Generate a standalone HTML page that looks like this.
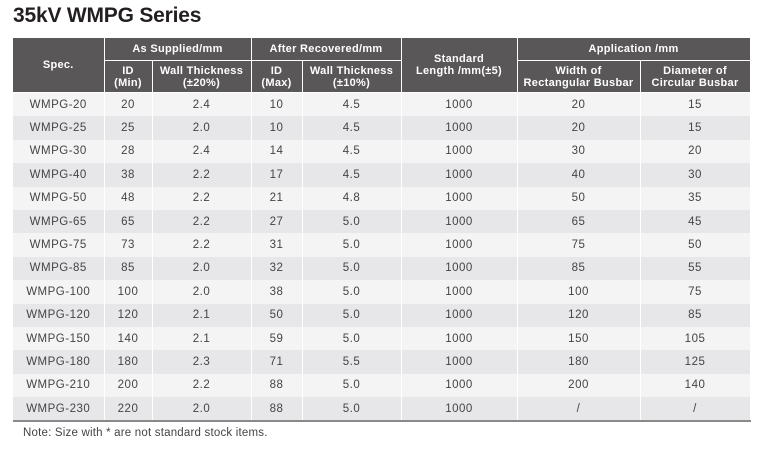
<!DOCTYPE html><html><head><style>
body{margin:0;width:766px;height:459px;background:#fff;font-family:"Liberation Sans",sans-serif;overflow:hidden}
h1{position:absolute;left:13px;top:4px;margin:0;font-size:21px;font-weight:bold;color:#231f20;letter-spacing:-0.2px}
table{position:absolute;left:13px;top:37px;border-collapse:collapse;table-layout:fixed;width:737px}
th{background:#595757;color:#fff;font-size:11px;font-weight:bold;border:1px solid #fff;padding:0;line-height:12px;letter-spacing:0.3px}
td{font-size:11.5px;color:#444;text-align:center;border-left:1px solid #fff;border-right:1px solid #fff;height:23.4px;padding:0;letter-spacing:0.5px}
tr.o td{background:#f4f4f4}tr.e td{background:#e7e7e9}
tr.last td{border-bottom:2px solid #8a8a8a}
th:first-child,td:first-child{border-left:none}
.note{position:absolute;left:23px;top:427px;font-size:11.5px;color:#444;letter-spacing:0.2px}
</style></head><body>
<h1>35kV WMPG Series</h1>
<table>
<colgroup><col style="width:91px"><col style="width:48px"><col style="width:99px"><col style="width:51px"><col style="width:99px"><col style="width:116px"><col style="width:123px"><col style="width:110px"></colgroup>
<tr style="height:23px"><th rowspan="2">Spec.</th><th colspan="2">As Supplied/mm</th><th colspan="2">After Recovered/mm</th><th rowspan="2">Standard<br>Length /mm(±5)</th><th colspan="2">Application /mm</th></tr>
<tr style="height:32px"><th>ID<br>(Min)</th><th>Wall Thickness<br>(±20%)</th><th>ID<br>(Max)</th><th>Wall Thickness<br>(±10%)</th><th>Width of<br>Rectangular Busbar</th><th>Diameter of<br>Circular Busbar</th></tr>
<tr class="o"><td>WMPG-20</td><td>20</td><td>2.4</td><td>10</td><td>4.5</td><td>1000</td><td>20</td><td>15</td></tr>
<tr class="e"><td>WMPG-25</td><td>25</td><td>2.0</td><td>10</td><td>4.5</td><td>1000</td><td>20</td><td>15</td></tr>
<tr class="o"><td>WMPG-30</td><td>28</td><td>2.4</td><td>14</td><td>4.5</td><td>1000</td><td>30</td><td>20</td></tr>
<tr class="e"><td>WMPG-40</td><td>38</td><td>2.2</td><td>17</td><td>4.5</td><td>1000</td><td>40</td><td>30</td></tr>
<tr class="o"><td>WMPG-50</td><td>48</td><td>2.2</td><td>21</td><td>4.8</td><td>1000</td><td>50</td><td>35</td></tr>
<tr class="e"><td>WMPG-65</td><td>65</td><td>2.2</td><td>27</td><td>5.0</td><td>1000</td><td>65</td><td>45</td></tr>
<tr class="o"><td>WMPG-75</td><td>73</td><td>2.2</td><td>31</td><td>5.0</td><td>1000</td><td>75</td><td>50</td></tr>
<tr class="e"><td>WMPG-85</td><td>85</td><td>2.0</td><td>32</td><td>5.0</td><td>1000</td><td>85</td><td>55</td></tr>
<tr class="o"><td>WMPG-100</td><td>100</td><td>2.0</td><td>38</td><td>5.0</td><td>1000</td><td>100</td><td>75</td></tr>
<tr class="e"><td>WMPG-120</td><td>120</td><td>2.1</td><td>50</td><td>5.0</td><td>1000</td><td>120</td><td>85</td></tr>
<tr class="o"><td>WMPG-150</td><td>140</td><td>2.1</td><td>59</td><td>5.0</td><td>1000</td><td>150</td><td>105</td></tr>
<tr class="e"><td>WMPG-180</td><td>180</td><td>2.3</td><td>71</td><td>5.5</td><td>1000</td><td>180</td><td>125</td></tr>
<tr class="o"><td>WMPG-210</td><td>200</td><td>2.2</td><td>88</td><td>5.0</td><td>1000</td><td>200</td><td>140</td></tr>
<tr class="e last"><td>WMPG-230</td><td>220</td><td>2.0</td><td>88</td><td>5.0</td><td>1000</td><td>/</td><td>/</td></tr>
</table>
<div class="note">Note: Size with * are not standard stock items.</div>
</body></html>
